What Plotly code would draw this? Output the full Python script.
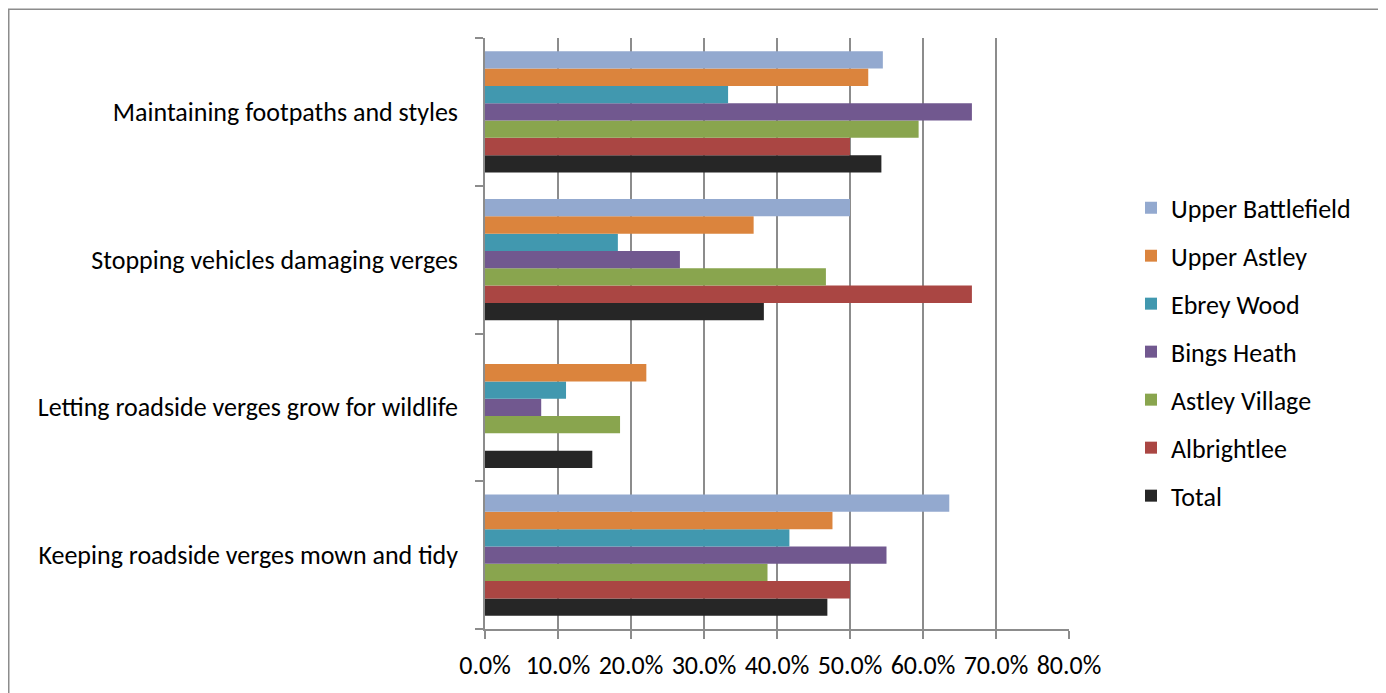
import plotly.graph_objects as go

categories = [
    "Keeping roadside verges mown and tidy",
    "Letting roadside verges grow for wildlife",
    "Stopping vehicles damaging verges",
    "Maintaining footpaths and styles",
]
# values in same order as categories (bottom to top)
upper_battlefield = [0.636, 0.0, 0.500, 0.545]
upper_astley = [0.476, 0.221, 0.368, 0.525]
ebrey_wood = [0.417, 0.111, 0.182, 0.333]
bings_heath = [0.550, 0.077, 0.267, 0.667]
astley_village = [0.387, 0.185, 0.467, 0.594]
albrightlee = [0.500, 0.0, 0.667, 0.500]
total = [0.469, 0.147, 0.382, 0.543]

series_names = ["Upper Battlefield", "Upper Astley", "Ebrey Wood", "Bings Heath",
                "Astley Village", "Albrightlee", "Total"]
series_values = [upper_battlefield, upper_astley, ebrey_wood, bings_heath,
                 astley_village, albrightlee, total]
colors = ["#93A9CF", "#DB843D", "#4198AF", "#71588F", "#89A54E", "#AA4643", "#262626"]

x_ticks = [0, 0.1, 0.2, 0.3, 0.4, 0.5, 0.6, 0.7, 0.8]

FONT = "Carlito, Lato, sans-serif"
FS = 26

fig = go.Figure()
# add in reverse so Upper Battlefield sits at the top of each group
n = len(series_names)
for i in reversed(range(n)):
    fig.add_trace(go.Bar(
        y=categories, x=series_values[i], name=series_names[i], orientation="h",
        marker=dict(color=colors[i], line=dict(width=0)),
        legendgroup=series_names[i], legendrank=i + 1,
    ))

# page has an 8px body margin; work in page coordinates minus that offset
OFF = 8
W, H = 1386 - OFF, 693 - OFF
L, R, T, B = 485 - OFF, 1069 - OFF, 38 - OFF, 632 - OFF
fig.update_layout(
    width=W, height=H,
    margin=dict(l=L, r=W - R, t=T, b=H - B, pad=0),
    paper_bgcolor="white", plot_bgcolor="white",
    barmode="group", bargap=0.18, bargroupgap=0,
    font=dict(family=FONT, size=FS, color="#000000"),
    showlegend=True,
    legend=dict(
        x=(1123 - L) / (R - L), xanchor="left",
        y=(B - 177) / (B - T), yanchor="top",
        traceorder="grouped", tracegroupgap=11.2,
        font=dict(family=FONT, size=FS, color="#000000"),
        bgcolor="rgba(0,0,0,0)",
    ),
    xaxis=dict(
        range=[0, 0.8], tickvals=x_ticks, tickformat=".1%",
        showgrid=True, gridcolor="#8C8C8C", gridwidth=1.5,
        showline=True, linecolor="#8C8C8C", linewidth=1.5,
        ticks="outside", ticklen=8, tickcolor="#8C8C8C", tickwidth=1.5,
        zeroline=False, ticklabelstandoff=4,
        tickfont=dict(family=FONT, size=FS, color="#000000"),
        fixedrange=True,
    ),
    yaxis=dict(
        type="category", categoryorder="array", categoryarray=categories,
        showgrid=False, showline=True, linecolor="#8C8C8C", linewidth=1.5,
        ticks="outside", ticklen=8, tickcolor="#8C8C8C", tickwidth=1.5,
        tickson="boundaries", ticklabelstandoff=20,
        tickfont=dict(family=FONT, size=FS, color="#000000"),
        fixedrange=True,
    ),
    shapes=[dict(
        type="rect", xref="paper", yref="paper",
        x0=(0.75 - L) / (R - L), x1=(1371 - L) / (R - L),
        y0=(B - 720) / (B - T), y1=(B - 1) / (B - T),
        line=dict(color="#8C8C8C", width=1.5), fillcolor="rgba(0,0,0,0)",
        layer="below",
    )],
)

fig.write_html("out.html")
